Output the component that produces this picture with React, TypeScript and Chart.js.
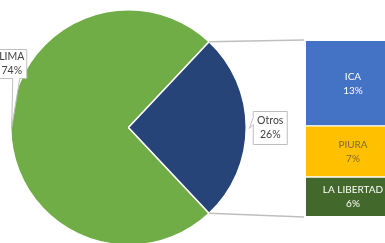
import React, { useEffect, useRef } from "react";
import { Chart, registerables } from "chart.js";

Chart.register(...registerables);

// ---- Data ----
const pieLabels = ["LIMA", "Otros"];
const pieValues = [74, 26];
const piePercentLabels = ["74%", "26%"];
const pieColors = ["#70AD47", "#264478"];

const barLabels = ["ICA", "PIURA", "LA LIBERTAD"];
const barValues = [12.6, 7.6, 5.8];
const barPercentLabels = ["13%", "7%", "6%"];
const barColors = ["#4472C4", "#FFC000", "#43682B"];
const barTextColors = ["#FFFFFF", "#7D6C2C", "#FFFFFF"];

const FONT_FAMILY = "Lato, 'Liberation Sans', sans-serif";
const FONT_SIZE = 10.5;
const BAR_FONT_SIZE = 10;
const LABEL_COLOR = "#404040";
const BOX_BORDER = "#BFBFBF";
const CONNECTOR = "#BFBFBF";

export default function App() {
  const pieRef = useRef<HTMLCanvasElement>(null);
  const barRef = useRef<HTMLCanvasElement>(null);

  useEffect(() => {
    document.body.style.margin = "0";
    const total = barValues.reduce((a, b) => a + b, 0);

    const barLabelPlugin = {
      id: "barLabels",
      afterDatasetsDraw(chart: any) {
        const ctx = chart.ctx;
        ctx.save();
        ctx.font = `${BAR_FONT_SIZE}px ${FONT_FAMILY}`;
        ctx.textAlign = "center";
        ctx.textBaseline = "middle";
        chart.data.datasets.forEach((ds: any, di: number) => {
          const meta = chart.getDatasetMeta(di);
          const el: any = meta.data[0];
          const idx = barLabels.indexOf(ds.label);
          const cy = (el.y + el.base) / 2;
          ctx.fillStyle = barTextColors[idx];
          ctx.fillText(barLabels[idx], el.x, cy - 7);
          ctx.fillText(barPercentLabels[idx], el.x, cy + 7);
        });
        ctx.restore();
      },
    };

    const borders = [
      { top: 0, bottom: 1, left: 0, right: 0 },
      { top: 1, bottom: 1, left: 0, right: 0 },
      { top: 1, bottom: 0, left: 0, right: 0 },
    ];

    const bar = new Chart(barRef.current!, {
      type: "bar",
      data: {
        labels: [""],
        datasets: barLabels
          .map((l, i) => ({
            label: l,
            data: [barValues[i]],
            backgroundColor: barColors[i],
            borderColor: "#FFFFFF",
            borderWidth: borders[i],
            borderSkipped: false,
            barPercentage: 1,
            categoryPercentage: 1,
          }))
          .reverse(),
      },
      options: {
        animation: false,
        responsive: false,
        maintainAspectRatio: false,
        layout: { padding: { left: 306, right: 10, top: 41, bottom: 27 } },
        scales: {
          x: { display: false, stacked: true },
          y: { display: false, stacked: true, min: 0, max: total },
        },
        plugins: { legend: { display: false }, tooltip: { enabled: false } },
      },
      plugins: [barLabelPlugin],
    } as any);

    const drawCallout = (
      ctx: CanvasRenderingContext2D,
      pts: [number, number][],
      lines: string[],
      cx: number,
      cy: number
    ) => {
      ctx.save();
      ctx.beginPath();
      pts.forEach(([x, y], i) => (i === 0 ? ctx.moveTo(x, y) : ctx.lineTo(x, y)));
      ctx.closePath();
      ctx.fillStyle = "#FFFFFF";
      ctx.fill();
      ctx.strokeStyle = BOX_BORDER;
      ctx.lineWidth = 1;
      ctx.stroke();
      ctx.font = `${FONT_SIZE}px ${FONT_FAMILY}`;
      ctx.fillStyle = LABEL_COLOR;
      ctx.textAlign = "center";
      ctx.textBaseline = "middle";
      ctx.fillText(lines[0], cx, cy - 7);
      ctx.fillText(lines[1], cx, cy + 7);
      ctx.restore();
    };

    const pieDecor = {
      id: "pieDecor",
      afterDatasetsDraw(chart: any) {
        const ctx = chart.ctx;
        const arcs: any[] = chart.getDatasetMeta(0).data;
        // connectors
        const o = arcs[1];
        const r = o.outerRadius;
        const p1 = [o.x + r * Math.cos(o.startAngle), o.y + r * Math.sin(o.startAngle)];
        const p2 = [o.x + r * Math.cos(o.endAngle), o.y + r * Math.sin(o.endAngle)];
        const metas = bar.data.datasets.map((_: any, i: number) => bar.getDatasetMeta(i));
        const topEl: any = metas[metas.length - 1].data[0];
        const botEl: any = metas[0].data[0];
        const left = topEl.x - topEl.width / 2;
        ctx.save();
        ctx.strokeStyle = CONNECTOR;
        ctx.lineWidth = 1.5;
        ctx.beginPath();
        ctx.moveTo(p1[0], p1[1]);
        ctx.lineTo(left - 2, topEl.y - 1);
        ctx.moveTo(p2[0], p2[1]);
        ctx.lineTo(left - 2, botEl.base + 1);
        ctx.stroke();
        ctx.restore();

        // labels
        arcs.forEach((a: any, i: number) => {
          const mid = (a.startAngle + a.endAngle) / 2;
          const tx = a.x + a.outerRadius * Math.cos(mid);
          const ty = a.y + a.outerRadius * Math.sin(mid);
          const lines = [pieLabels[i], piePercentLabels[i]];
          if (i === 0) {
            const bx = tx - 14, by = ty - 78, w = 30, h = 29;
            drawCallout(
              ctx,
              [
                [bx, by],
                [bx + w, by],
                [bx + w, by + h],
                [tx + 9, by + h],
                [tx + 1, ty],
                [tx + 2, by + h],
                [bx, by + h],
              ],
              lines,
              bx + w / 2,
              by + h / 2
            );
          } else {
            const bx = tx + 7, by = ty - 16, w = 34, h = 33;
            drawCallout(
              ctx,
              [
                [bx, by],
                [bx + w, by],
                [bx + w, by + h],
                [bx, by + h],
                [bx, ty - 3],
                [tx + 3, ty + 1],
                [bx, ty - 10],
              ],
              lines,
              bx + w / 2,
              by + h / 2
            );
          }
        });
      },
    };

    const pieTotal = pieValues.reduce((a, b) => a + b, 0);
    const rotation = 90 - ((pieValues[0] + pieValues[1] / 2) / pieTotal) * 360;

    const pie = new Chart(pieRef.current!, {
      type: "pie",
      data: {
        labels: pieLabels,
        datasets: [
          {
            data: pieValues,
            backgroundColor: pieColors,
            borderColor: "#FFFFFF",
            borderWidth: 1.5,
          },
        ],
      },
      options: {
        animation: false,
        responsive: false,
        maintainAspectRatio: false,
        rotation,
        layout: { padding: { left: 10, right: 163, top: 9, bottom: 10 } },
        plugins: { legend: { display: false }, tooltip: { enabled: false } },
      },
      plugins: [pieDecor],
    } as any);

    return () => {
      pie.destroy();
      bar.destroy();
    };
  }, []);

  return (
    <div
      style={{
        position: "relative",
        width: 385,
        height: 243,
        overflow: "hidden",
        background: "#FFFFFF",
      }}
    >
      <canvas
        ref={pieRef}
        width={410}
        height={256}
        style={{ position: "absolute", left: 0, top: 0, width: 410, height: 256 }}
      />
      <canvas
        ref={barRef}
        width={410}
        height={243}
        style={{ position: "absolute", left: 0, top: 0, width: 410, height: 243 }}
      />
    </div>
  );
}
